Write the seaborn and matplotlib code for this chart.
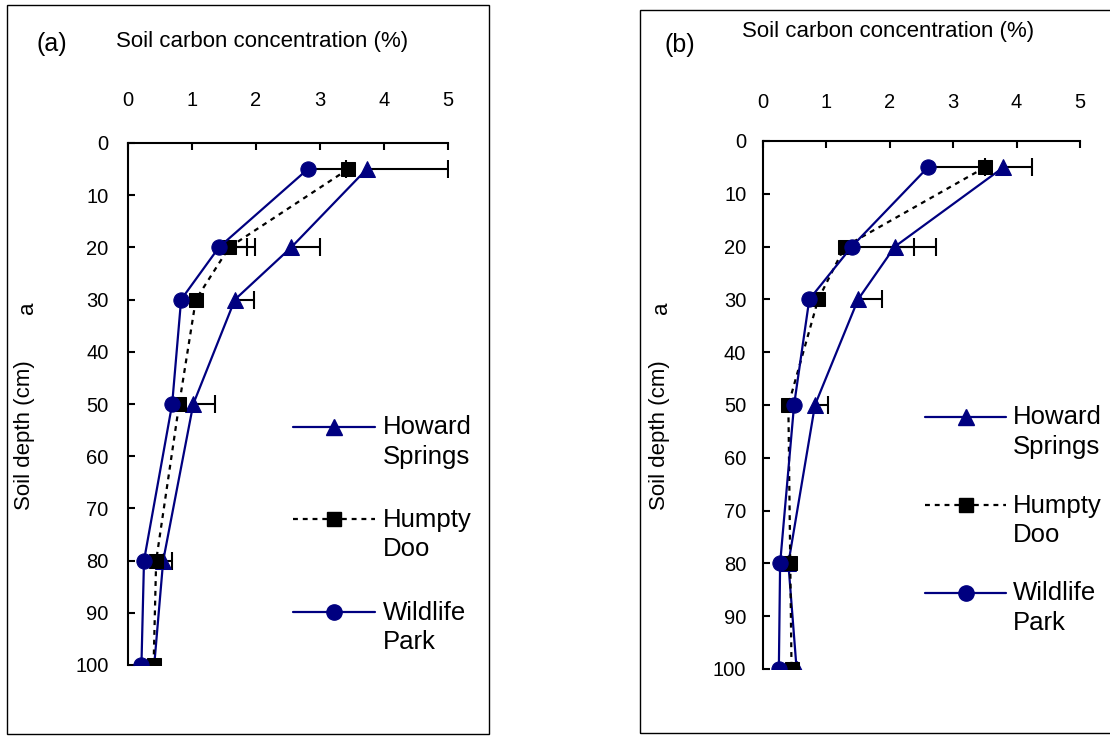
import matplotlib
matplotlib.use("Agg")
import matplotlib.pyplot as plt
from matplotlib.patches import Rectangle
from matplotlib.lines import Line2D
import seaborn as sns
import pandas as pd
import numpy as np

sns.set_style("ticks")
plt.rcParams['font.family'] = ['Liberation Sans', 'DejaVu Sans']
plt.rcParams['text.color'] = 'black'
plt.rcParams['xtick.color'] = 'black'
plt.rcParams['ytick.color'] = 'black'
plt.rcParams['axes.edgecolor'] = 'black'

depths = [5, 20, 30, 50, 80, 100]
series_names = ["Howard\nSprings", "Humpty\nDoo", "Wildlife\nPark"]

# Panel (a)
a_howard = [3.73, 2.55, 1.67, 1.02, 0.55, 0.41]
a_humpty = [3.44, 1.58, 1.06, 0.80, 0.44, 0.40]
a_wildlife = [2.81, 1.42, 0.83, 0.69, 0.25, 0.21]
a_howard_err = [1.27, 0.45, 0.30, 0.34, 0.14, 0.0]
a_humpty_err = [0.0, 0.40, 0.0, 0.0, 0.0, 0.0]
a_wildlife_err = [0.60, 0.44, 0.0, 0.0, 0.0, 0.0]

# Panel (b)
b_howard = [3.79, 2.08, 1.50, 0.82, 0.40, 0.53]
b_humpty = [3.50, 1.29, 0.87, 0.40, 0.43, 0.45]
b_wildlife = [2.60, 1.40, 0.73, 0.49, 0.27, 0.25]
b_howard_err = [0.45, 0.30, 0.38, 0.20, 0.0, 0.0]
b_humpty_err = [0.0, 0.0, 0.0, 0.0, 0.0, 0.0]
b_wildlife_err = [0.90, 1.33, 0.0, 0.0, 0.0, 0.0]

x_ticks = [0, 1, 2, 3, 4, 5]
y_ticks = [0, 10, 20, 30, 40, 50, 60, 70, 80, 90, 100]

NAVY = "#000080"
styles = [
    dict(color=NAVY, marker="^", linestyle="-", markersize=12),
    dict(color="black", marker="s", linestyle=(0, (2.2, 2.2)), markersize=10),
    dict(color=NAVY, marker="o", linestyle="-", markersize=11),
]

W, H = 1110, 736
fig = plt.figure(figsize=(W / 100, H / 100), dpi=100)

def fx(px):
    return px / W

def fy(py):
    return 1 - py / H

# panel frames
fig.add_artist(Rectangle((fx(7), fy(734)), 482 / W, 729 / H,
                         transform=fig.transFigure, fill=False, lw=1.0, ec="black"))
fig.add_artist(Rectangle((fx(640), fy(733)), 480 / W, 723 / H,
                         transform=fig.transFigure, fill=False, lw=1.0, ec="black"))

def make_panel(rect, vals, errs, xpad, ypad, leg_x0, leg_x1, leg_ys, text_x):
    ax = fig.add_axes(rect)
    d = np.asarray(depths, dtype=float)
    # plus-only error bars: bar from the value to value+err with an end cap
    for v, e in zip(vals, errs):
        v = np.asarray(v, dtype=float)
        e = np.asarray(e, dtype=float)
        m = e > 0
        if m.any():
            ax.hlines(d[m], v[m], v[m] + e[m], colors="black", linewidth=1.5, zorder=2)
            ax.plot(v[m] + e[m], d[m], linestyle="none", marker="|", markersize=13,
                    markeredgewidth=1.5, color="black", zorder=2)
    for name, v, st in zip(series_names, vals, styles):
        df = pd.DataFrame({"x": v, "y": depths})
        sns.lineplot(data=df, x="x", y="y", sort=False, estimator=None, ax=ax,
                     color=st["color"], marker=st["marker"], linestyle=st["linestyle"],
                     markersize=st["markersize"], markerfacecolor=st["color"],
                     markeredgecolor=st["color"], linewidth=1.6, zorder=3)
    ax.set_xlim(0, 5)
    ax.set_ylim(100, 0)
    ax.set_xticks(x_ticks)
    ax.set_yticks(y_ticks)
    ax.xaxis.tick_top()
    ax.tick_params(axis="x", direction="in", length=5, width=1.5, pad=xpad, labelsize=14.5)
    ax.tick_params(axis="y", direction="in", length=5, width=1.5, pad=ypad, labelsize=14.5)
    for s in ["right", "bottom"]:
        ax.spines[s].set_visible(False)
    for s in ["top", "left"]:
        ax.spines[s].set_linewidth(1.5)
    ax.set_xlabel("")
    ax.set_ylabel("")
    # legend (manual layout, first text line aligned with the handle)
    for name, st, ly in zip(series_names, styles, leg_ys):
        fig.add_artist(Line2D([fx(leg_x0), fx(leg_x1)], [fy(ly), fy(ly)],
                              transform=fig.transFigure, color=st["color"],
                              linestyle=st["linestyle"], linewidth=1.6))
        fig.add_artist(Line2D([fx((leg_x0 + leg_x1) / 2)], [fy(ly)],
                              transform=fig.transFigure, color=st["color"],
                              marker=st["marker"], markersize=st["markersize"],
                              linestyle="none"))
        fig.text(fx(text_x), fy(ly + 10), name, fontsize=18.5, ha="left",
                 va="center_baseline", linespacing=1.3)
    return ax

ax_a = make_panel([fx(128), fy(665), 320 / W, 522 / H],
                  [a_howard, a_humpty, a_wildlife],
                  [a_howard_err, a_humpty_err, a_wildlife_err],
                  24, 14, 293, 375, [427, 519, 612], 383)
ax_b = make_panel([fx(763), fy(669), 317 / W, 528 / H],
                  [b_howard, b_humpty, b_wildlife],
                  [b_howard_err, b_humpty_err, b_wildlife_err],
                  21, 12, 925, 1006, [417, 505, 593], 1013)

# labels
fig.text(fx(52), fy(44), "(a)", fontsize=18, ha="center", va="center")
fig.text(fx(262), fy(42), "Soil carbon concentration (%)", fontsize=16, ha="center", va="center")
fig.text(fx(680), fy(45), "(b)", fontsize=18, ha="center", va="center")
fig.text(fx(888), fy(31), "Soil carbon concentration (%)", fontsize=16, ha="center", va="center")

fig.text(fx(25), fy(435), "Soil depth (cm)", fontsize=16, rotation=90, ha="center", va="center")
fig.text(fx(27), fy(308), "a", fontsize=16, rotation=90, ha="center", va="center")
fig.text(fx(660), fy(435), "Soil depth (cm)", fontsize=16, rotation=90, ha="center", va="center")
fig.text(fx(661), fy(308), "a", fontsize=16, rotation=90, ha="center", va="center")

fig.savefig("out.png", dpi=100)
